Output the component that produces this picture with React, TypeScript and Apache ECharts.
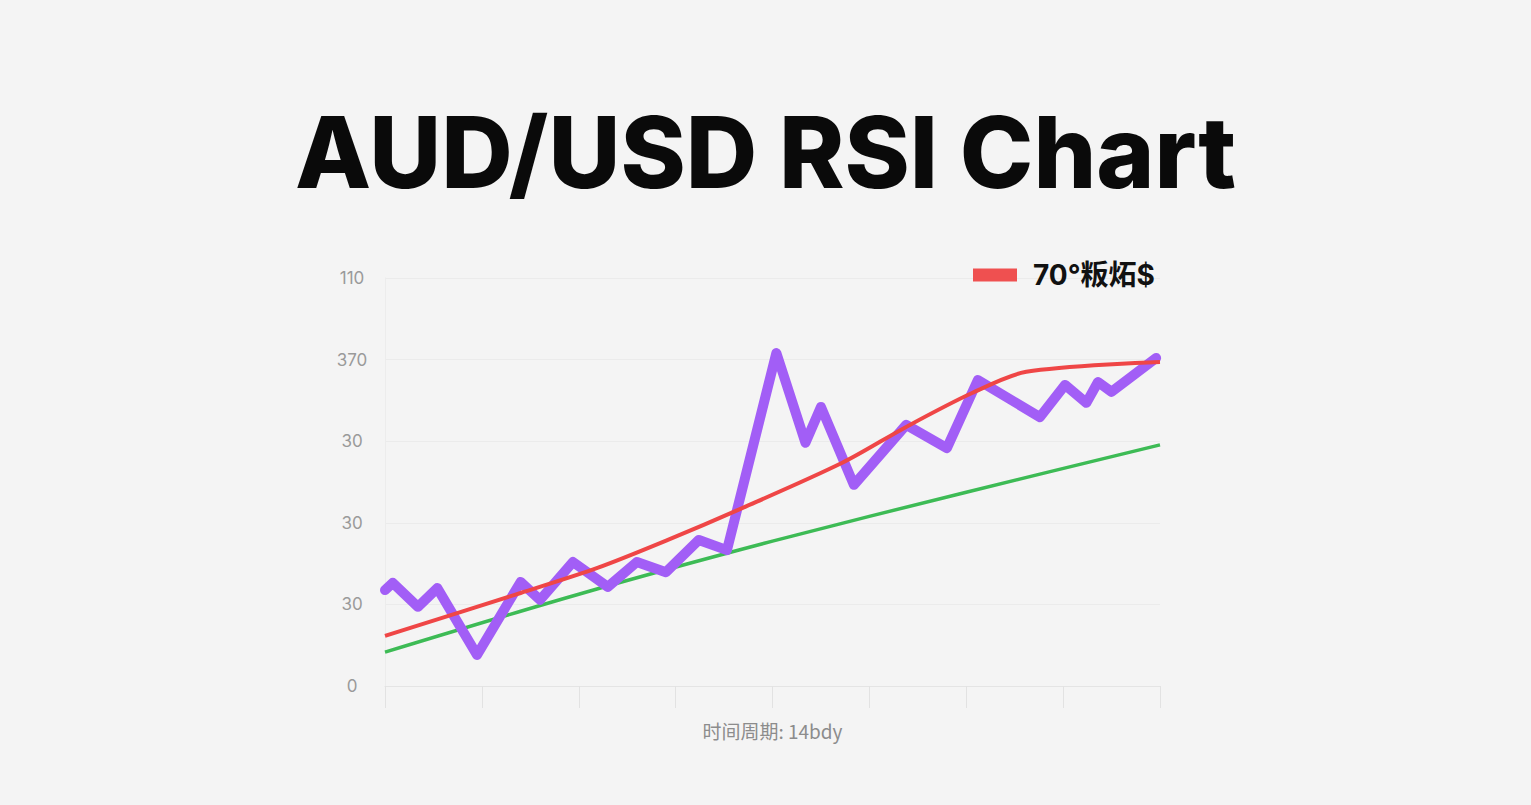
import React, { useEffect, useRef } from "react";
import * as echarts from "echarts";

const yTickLabels = ["0", "30", "30", "30", "370", "110"];
const legendName = "70°粄炻$";
const xAxisName = "时间周期: 14bdy";

const rsiX = [0, 0.4, 1.7, 2.7, 4.75, 7.0, 8.0, 9.7, 11.5, 13.0, 14.5, 16.2, 17.65, 20.2, 21.7, 22.5, 24.2, 26.9, 29.0, 30.6, 33.8, 35.1, 36.2, 36.8, 37.5, 39.8];
const rsiY = [23.5, 25.3, 19.4, 24.0, 7.6, 25.5, 21.1, 30.4, 24.3, 30.4, 27.9, 35.8, 33.3, 81.6, 59.6, 68.4, 49.3, 64.0, 58.3, 75.0, 65.9, 73.8, 69.4, 74.5, 72.1, 80.4];

const redX = [0, 7, 11, 14.6, 18.2, 23.6, 26.9, 30.3, 33.1, 40];
const redY = [12.3, 22.8, 29.0, 35.8, 43.1, 54.7, 63.5, 71.8, 77.0, 79.4];

const greenX = [0, 10, 20, 30, 40];
const greenY = [8.3, 22.5, 35.5, 47.5, 59.1];

const zip = (xs: number[], ys: number[]) => xs.map((x, i) => [x, ys[i]]);

export default function App() {
  const ref = useRef<HTMLDivElement>(null);
  useEffect(() => {
    if (!ref.current) return;
    const chart = echarts.init(ref.current, null, { renderer: "svg" });
    chart.setOption({
      animation: false,
      backgroundColor: "#f4f4f4",
      title: {
        text: "AUD/USD RSI Chart",
        left: "center",
        top: 97,
        textStyle: {
          fontFamily: "Inter, 'Noto Sans', sans-serif",
          fontSize: 99,
          fontWeight: 800,
          color: "#0a0a0a",
        },
      },
      legend: {
        data: [legendName],
        left: 968,
        top: 256,
        icon: "rect",
        itemWidth: 44,
        itemHeight: 13,
        itemGap: 14,
        textStyle: {
          fontFamily: "Inter, 'Noto Sans CJK SC', sans-serif",
          fontSize: 28,
          fontWeight: "bold",
          color: "#111",
          padding: [0, 0, 0, 11],
        },
      },
      grid: { left: 385, right: 371, top: 278, bottom: 119 },
      xAxis: {
        type: "value",
        min: 0,
        max: 40,
        interval: 5,
        name: xAxisName,
        nameLocation: "middle",
        nameGap: 35,
        nameTextStyle: {
          fontFamily: "'Noto Sans CJK SC', sans-serif",
          fontSize: 19,
          color: "#8c8c8c",
        },
        axisLine: { show: true, lineStyle: { color: "#e4e4e4", width: 1 } },
        axisTick: { show: true, length: 22, lineStyle: { color: "#e2e2e2", width: 1 } },
        axisLabel: { show: false },
        splitLine: { show: false },
      },
      yAxis: {
        type: "value",
        min: 0,
        max: 100,
        interval: 20,
        axisLine: { show: true, lineStyle: { color: "#ececec", width: 1 } },
        axisTick: { show: false },
        axisLabel: {
          align: "center",
          margin: 33,
          fontFamily: "Inter, sans-serif",
          fontSize: 17,
          color: "#9a9a9a",
          formatter: (v: number) => yTickLabels[Math.round(v / 20)] ?? "",
        },
        splitLine: { show: true, lineStyle: { color: "#ebebeb", width: 1 } },
      },
      series: [
        {
          name: "绿线",
          type: "line",
          data: zip(greenX, greenY),
          showSymbol: false,
          smooth: 0.3,
          lineStyle: { color: "#3dbb55", width: 3.5 },
          itemStyle: { color: "#3dbb55" },
          z: 2,
        },
        {
          name: "RSI",
          type: "line",
          data: zip(rsiX, rsiY),
          showSymbol: false,
          lineStyle: { color: "#a25ef6", width: 10, join: "round", cap: "round" },
          itemStyle: { color: "#a25ef6" },
          z: 3,
        },
        {
          name: legendName,
          type: "line",
          data: zip(redX, redY),
          showSymbol: false,
          smooth: 0.3,
          lineStyle: { color: "#ef4646", width: 4 },
          itemStyle: { color: "#ef5050" },
          z: 4,
        },
      ],
    });
    return () => chart.dispose();
  }, []);
  return (
    <div
      ref={ref}
      style={{ position: "fixed", left: 0, top: 0, width: 1531, height: 805 }}
    />
  );
}
